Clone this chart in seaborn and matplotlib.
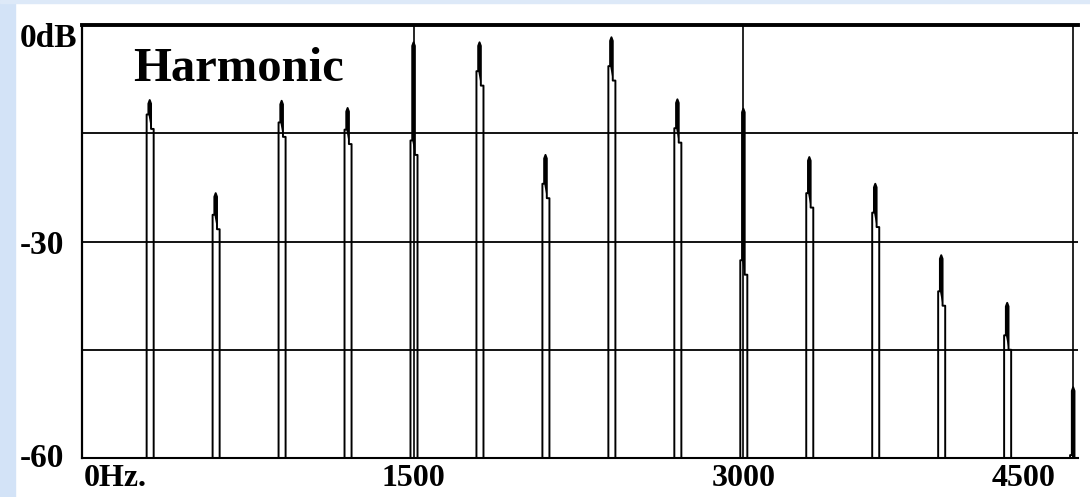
import pandas as pd
import seaborn as sns
import matplotlib.pyplot as plt
from matplotlib.patches import Rectangle
from matplotlib.transforms import ScaledTranslation

# Estilo
sns.set_theme(style="white", rc={"text.color": "black", "xtick.color": "black",
                                 "ytick.color": "black", "axes.edgecolor": "black"})
plt.rcParams['font.family'] = ['Liberation Serif', 'DejaVu Serif']
plt.rcParams['font.weight'] = 'bold'

# Datos: armónicos (Hz), nivel del pico (dB) y profundidad del núcleo estrecho (dB)
freqs = [300, 600, 900, 1200, 1500, 1800, 2100, 2400, 2700, 3000,
         3300, 3600, 3900, 4200, 4500]
levels = [-10.4, -23.3, -10.5, -11.5, -2.4, -2.4, -18.0, -1.7, -10.3, -11.6,
          -18.3, -22.0, -31.9, -38.5, -50.2]
core = [2, 3, 3, 3, 13.6, 4, 4, 4, 4, 21, 5, 4, 5, 4.5, 9.4]
floor_db = -60

y_ticks = [0, -30, -60]
y_labels = ["0dB", "-30", "-60"]
x_ticks = [0, 1500, 3000, 4500]
x_labels = ["0Hz.", "1500", "3000", "4500"]
grid_db = [-15, -30, -45]
marker_hz = [1500, 3000, 4500]

# Contorno del espectro (un pico estrecho por armónico)
xs, ys = [0], [floor_db]
for f, lv, c in zip(freqs, levels, core):
    xs += [f - 14, f - 14, f - 6, f - 6, f, f + 6, f + 6, f + 18, f + 18]
    ys += [floor_db, lv - c, lv - c, lv - 0.5, lv, lv - 0.5, lv - c - 2, lv - c - 2, floor_db]
spec = pd.DataFrame({"Hz": xs, "dB": ys})

# Figura
fig = plt.figure(figsize=(10.9, 4.97), dpi=100)
fig.add_artist(Rectangle((0, 0), 15 / 1090, 1, transform=fig.transFigure,
                         color="#d3e3f7", zorder=-5))
fig.add_artist(Rectangle((0, 1 - 3 / 497), 1, 3 / 497, transform=fig.transFigure,
                         color="#dde9f8", zorder=-5))
ax = fig.add_axes([82 / 1090, 39 / 497, 996 / 1090, 433 / 497])

for g in grid_db:
    ax.axhline(g, color="black", lw=1.3, zorder=1)
for m in marker_hz:
    ax.axvline(m, color="black", lw=1.2, zorder=1)

sns.lineplot(data=spec, x="Hz", y="dB", sort=False, estimator=None,
             color="black", lw=1.4, ax=ax, zorder=2)

# núcleo negro de cada pico
for f, lv, c in zip(freqs, levels, core):
    ax.fill([f - 6, f - 6, f, f + 6, f + 6], [lv - c, lv - 0.5, lv, lv - 0.5, lv - c - 2],
            color="black", lw=0, zorder=2)

ax.set_xlim(-8, 4522)
ax.set_ylim(-60, 0)
ax.set_xlabel("")
ax.set_ylabel("")

# Bordes
ax.spines["right"].set_visible(False)
ax.spines["top"].set_linewidth(2.8)
ax.spines["left"].set_linewidth(1.6)
ax.spines["bottom"].set_linewidth(1.5)

# Etiquetas de ejes
ax.set_yticks(y_ticks, y_labels)
ax.tick_params(axis="y", length=0, pad=45, labelsize=24)
for lbl in ax.get_yticklabels():
    lbl.set_horizontalalignment("left")
ylab = ax.get_yticklabels()
ylab[0].set_transform(ylab[0].get_transform() + ScaledTranslation(0, -0.10, fig.dpi_scale_trans))
ylab[-1].set_transform(ylab[-1].get_transform() + ScaledTranslation(0, 0.03, fig.dpi_scale_trans))

ax.set_xticks(x_ticks, x_labels)
ax.tick_params(axis="x", length=0, pad=4, labelsize=23)
xlab = ax.get_xticklabels()
xlab[0].set_horizontalalignment("left")
xlab[-1].set_transform(xlab[-1].get_transform() + ScaledTranslation(-0.50, 0, fig.dpi_scale_trans))

ax.text(0.051, 0.871, "Harmonic", transform=ax.transAxes, fontsize=35,
        fontweight="bold", ha="left", va="baseline")

fig.savefig("out.png", dpi=100)
